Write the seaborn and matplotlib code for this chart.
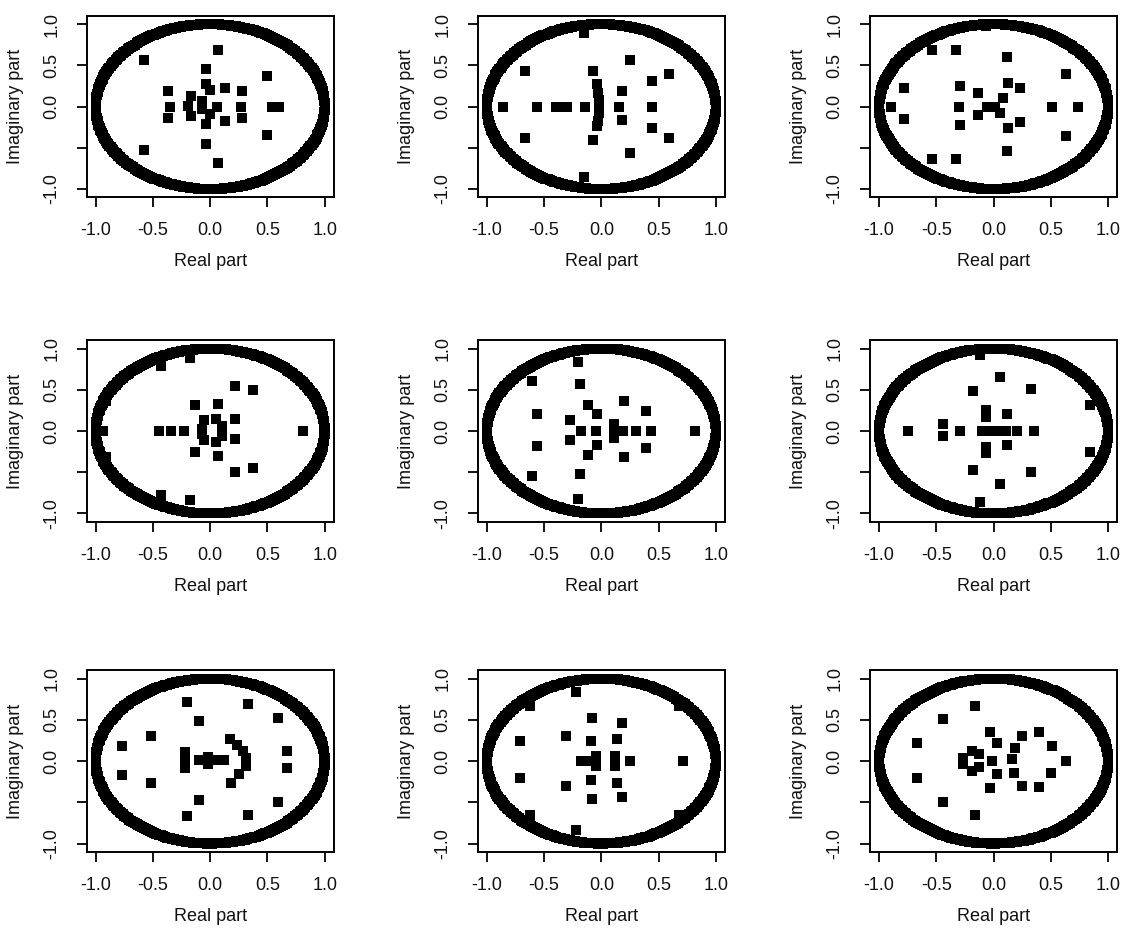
import numpy as np
import matplotlib
matplotlib.use("Agg")
import matplotlib.pyplot as plt
import seaborn as sns

# roots (real part / imaginary part)
re1 = [-0.58, -0.58, 0.07, 0.07, -0.04, -0.04, -0.37, -0.35, -0.37, -0.04, -0.04, 0.13, 0.13, 0.28,
       0.27, 0.28, 0.50, 0.50, 0.54, 0.60, -0.17, -0.19, -0.17, 0.00, -0.07, -0.07, 0.06, 0.00]
im1 = [0.57, -0.53, 0.69, -0.68, 0.46, -0.45, 0.19, 0.00, -0.14, 0.28, -0.21, 0.22, -0.17, 0.19,
       0.00, -0.14, 0.37, -0.35, 0.00, 0.00, 0.13, 0.01, -0.11, 0.20, 0.07, -0.03, 0.00, -0.09]

re2 = [-0.15, -0.15, -0.67, -0.67, -0.86, -0.56, -0.40, -0.35, -0.30, -0.14, -0.07, -0.07, -0.04, -0.03,
       -0.02, -0.02, -0.02, -0.03, -0.04, 0.18, 0.15, 0.18, 0.25, 0.25, 0.44, 0.44, 0.44, 0.59, 0.59]
im2 = [0.89, -0.85, 0.43, -0.38, 0.00, 0.00, 0.00, 0.00, 0.00, 0.00, 0.43, -0.41, 0.27, 0.17,
       0.08, 0.00, -0.08, -0.17, -0.24, 0.19, 0.00, -0.16, 0.57, -0.56, 0.31, 0.00, -0.26, 0.40, -0.38]

re3 = [-0.54, -0.33, -0.54, -0.33, 0.12, 0.12, 0.63, 0.63, -0.78, -0.78, -0.90, -0.30, -0.29, -0.29,
       -0.14, -0.14, -0.06, 0.01, 0.08, 0.06, 0.13, 0.23, 0.23, 0.13, 0.51, 0.74, -0.07]
im3 = [0.69, 0.69, -0.64, -0.64, 0.60, -0.54, 0.40, -0.36, 0.22, -0.15, 0.00, 0.00, 0.25, -0.22,
       0.16, -0.10, 0.00, 0.00, 0.11, -0.08, 0.29, 0.22, -0.19, -0.26, 0.00, 0.00, 0.98]

re4 = [-0.18, -0.43, -0.43, -0.18, -0.94, -0.91, -0.91, -0.45, -0.34, -0.23, -0.13, -0.13, 0.07, 0.07,
       0.22, 0.22, 0.22, 0.22, 0.37, 0.37, 0.81, -0.05, 0.05, 0.10, 0.10, 0.05, -0.05, -0.07, -0.07]
im4 = [0.89, 0.79, -0.77, -0.84, 0.00, 0.36, -0.32, 0.00, 0.00, 0.00, 0.31, -0.25, 0.33, -0.30,
       0.55, 0.14, -0.10, -0.50, 0.50, -0.45, 0.00, 0.13, 0.15, 0.06, -0.06, -0.13, -0.11, 0.03, -0.04]

re5 = [-0.20, -0.19, -0.61, -0.61, -0.19, -0.20, -0.56, -0.56, -0.27, -0.27, -0.18, -0.12, -0.04, -0.05,
       -0.04, -0.12, 0.11, 0.11, 0.11, 0.19, 0.20, 0.20, 0.30, 0.43, 0.39, 0.39, 0.82]
im5 = [0.84, 0.57, 0.61, -0.55, -0.52, -0.82, 0.21, -0.18, 0.13, -0.11, 0.00, 0.31, 0.21, 0.00,
       -0.17, -0.29, 0.09, -0.01, -0.09, 0.00, 0.36, -0.32, 0.00, 0.00, 0.24, -0.20, 0.00]

re6 = [-0.12, -0.12, 0.06, 0.06, -0.18, -0.18, 0.33, 0.33, 0.84, 0.84, -0.75, -0.44, -0.44, -0.29,
       -0.07, -0.07, -0.07, -0.07, -0.10, -0.03, 0.04, 0.11, 0.12, 0.12, 0.20, 0.35]
im6 = [0.92, -0.86, 0.66, -0.64, 0.49, -0.47, 0.51, -0.50, 0.31, -0.26, 0.00, 0.09, -0.06, 0.00,
       0.25, 0.17, -0.19, -0.27, 0.00, 0.00, 0.00, 0.00, 0.21, -0.17, 0.00, 0.00]

re7 = [-0.20, -0.20, 0.33, 0.33, -0.10, -0.10, 0.59, 0.59, -0.52, -0.52, -0.77, -0.77, 0.67, 0.67,
       -0.22, -0.22, -0.22, -0.10, -0.03, 0.05, 0.12, -0.02, -0.02, 0.17, 0.23, 0.29, 0.31, 0.31, 0.25, 0.18]
im7 = [0.72, -0.67, 0.69, -0.65, 0.49, -0.47, 0.52, -0.50, 0.31, -0.27, 0.18, -0.17, 0.12, -0.08,
       0.11, 0.02, -0.08, 0.01, 0.01, 0.01, 0.01, 0.05, -0.03, 0.27, 0.20, 0.12, 0.04, -0.06, -0.16, -0.26]

re8 = [-0.22, -0.22, -0.62, -0.62, 0.68, 0.68, -0.71, -0.71, -0.31, -0.31, -0.08, -0.08, 0.18, 0.18,
       -0.09, -0.09, 0.14, 0.14, -0.18, -0.11, -0.05, -0.05, 0.12, 0.12, 0.25, 0.71]
im8 = [0.84, -0.84, 0.67, -0.65, 0.67, -0.65, 0.24, -0.20, 0.30, -0.30, 0.52, -0.46, 0.46, -0.44,
       0.24, -0.23, 0.27, -0.26, 0.00, 0.00, 0.06, -0.06, 0.06, -0.06, 0.00, 0.00]

re9 = [-0.16, -0.16, -0.44, -0.44, -0.67, -0.67, 0.63, 0.51, 0.50, 0.40, 0.40, 0.25, 0.25, 0.19,
       0.16, 0.18, -0.03, 0.03, -0.01, 0.03, -0.03, -0.27, -0.27, -0.19, -0.13, -0.19, -0.13]
im9 = [0.67, -0.65, 0.51, -0.50, 0.22, -0.20, 0.00, 0.18, -0.15, 0.35, -0.32, 0.31, -0.30, 0.16,
       0.02, -0.14, 0.35, 0.22, 0.00, -0.16, -0.33, 0.04, -0.04, 0.12, 0.08, -0.12, -0.07]

panels = [(re1, im1), (re2, im2), (re3, im3),
          (re4, im4), (re5, im5), (re6, im6),
          (re7, im7), (re8, im8), (re9, im9)]

tick_vals = [-1.0, -0.5, 0.0, 0.5, 1.0]
x_labels = ["-1.0", "-0.5", "0.0", "0.5", "1.0"]
y_labels = ["-1.0", "", "0.0", "0.5", "1.0"]

# unit circle, drawn as a dense ring of points
circle_n = 300
theta = np.linspace(0, 2 * np.pi, circle_n)
circle_re = np.cos(theta)
circle_im = np.sin(theta)

sns.set_theme(style="ticks")
plt.rcParams["font.family"] = ["Liberation Sans", "DejaVu Sans"]
plt.rcParams["text.color"] = "#111111"
plt.rcParams["axes.labelcolor"] = "#111111"
plt.rcParams["xtick.labelcolor"] = "#111111"
plt.rcParams["ytick.labelcolor"] = "#111111"

fig = plt.figure(figsize=(11.24, 9.35), dpi=100)
lefts = [0.077, 0.425, 0.774]
bottoms = [0.789, 0.442, 0.089]

for i, (re, im) in enumerate(panels):
    r, c = divmod(i, 3)
    ax = fig.add_axes([lefts[c], bottoms[r], 0.22, 0.194])
    sns.scatterplot(x=circle_re, y=circle_im, marker="s", s=46, color="black",
                    linewidth=0, ax=ax)
    sns.scatterplot(x=re, y=im, marker="s", s=46, color="black", linewidth=0, ax=ax)
    ax.set_xlim(-1.08, 1.08)
    ax.set_ylim(-1.10, 1.10)
    ax.set_xticks(tick_vals)
    ax.set_xticklabels(x_labels)
    ax.set_yticks(tick_vals)
    ax.set_yticklabels(y_labels, rotation=90, va="center")
    ax.set_xlabel("Real part", fontsize=13, labelpad=10)
    ax.set_ylabel("Imaginary part", fontsize=13, labelpad=14)
    ax.tick_params(axis="both", length=7, width=1.3, color="black", labelsize=13)
    ax.tick_params(axis="x", pad=11)
    ax.tick_params(axis="y", pad=12)
    for sp in ax.spines.values():
        sp.set_linewidth(1.4)
        sp.set_color("black")

fig.savefig("out.png", dpi=100)
